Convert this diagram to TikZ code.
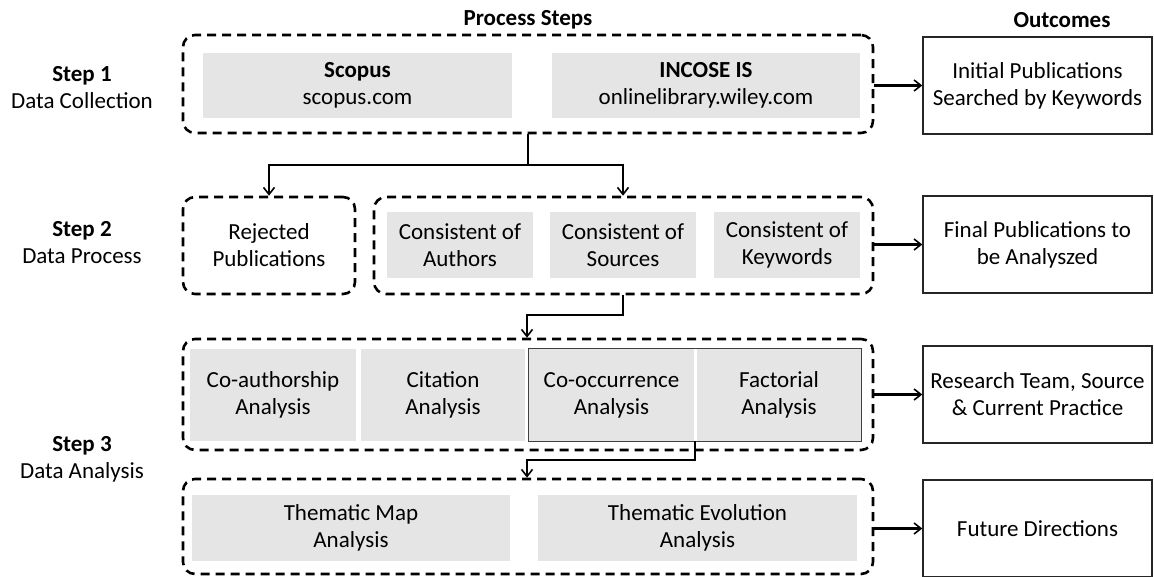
\documentclass[tikz,border=0pt]{standalone}
\usepackage{fontspec}
\setmainfont{Carlito}
\usetikzlibrary{arrows.meta}
\definecolor{boxgrey}{HTML}{E5E5E5}
\tikzset{
  grp/.style={draw=black, line width=2.6pt, dash pattern=on 9pt off 6pt, rounded corners=12pt, inner sep=0pt, align=center},
  gbox/.style={fill=boxgrey, draw=none, align=center, inner sep=0pt},
  obox/.style={draw=black!85, line width=1.4pt, fill=white, align=center, inner sep=0pt},
  conn/.style={line width=2.4pt, -{Straight Barb[length=7pt,width=11pt,line width=1.6pt]}},
  plain/.style={line width=2.4pt},
  lbl/.style={align=center, inner sep=0pt},
}
% \cbox[style]{name}{x1}{y1}{x2}{y2}{text}
\newcommand{\cbox}[7][]{\node[#1, minimum width={#5-#3}, minimum height={#6-#4}] (#2) at ({(#3+#5)/2},{(#4+#6)/2}) {#7};}
\begin{document}
\begin{tikzpicture}[x=1pt,y=-1pt, font=\fontsize{23}{27}\selectfont]
\useasboundingbox (0,0) rectangle (1154,576);
\fill[white] (0,0) rectangle (1154,576);

% headers
\node[lbl, font=\fontsize{23}{27}\selectfont\bfseries] (hps) at (528,20) {Process Steps};
\node[lbl, font=\fontsize{23}{27}\selectfont\bfseries] (hout) at (1062,20) {Outcomes};

% step labels
\node[lbl] (s1) at (82,88) {\textbf{Step 1}\\Data Collection};
\node[lbl] (s2) at (82,243) {\textbf{Step 2}\\Data Process};
\node[lbl] (s3) at (82,459) {\textbf{Step 3}\\Data Analysis};

% Step 1
\cbox[grp]{g1}{183}{35}{873}{133}{}
\cbox[gbox]{scopus}{203}{53}{512}{118}{\textbf{Scopus}\\scopus.com}
\cbox[gbox]{incose}{552}{53}{860}{118}{\textbf{INCOSE IS}\\onlinelibrary.wiley.com}
\cbox[obox]{o1}{923}{37}{1152}{134}{Initial Publications\\Searched by Keywords}

% Step 2
\cbox[grp]{rej}{183}{197}{355}{294}{Rejected\\Publications}
\cbox[grp]{g2}{374}{197}{873}{294}{}
\cbox[gbox]{auth}{387}{212}{533}{278}{Consistent of\\Authors}
\cbox[gbox]{src}{550}{212}{696}{278}{Consistent of\\Sources}
\cbox[gbox]{kw}{714}{212}{860}{278}{Consistent of\\Keywords}
\cbox[obox]{o2}{923}{196}{1152}{293}{Final Publications to\\be Analyszed}

% Step 3a
\cbox[grp]{g3}{183}{339}{873}{450}{}
\cbox[gbox]{coa}{190}{349}{356}{441}{Co-authorship\\Analysis}
\cbox[gbox]{cit}{361}{349}{525}{441}{Citation\\Analysis}
\cbox[gbox]{coo}{529}{349}{694}{441}{Co-occurrence\\Analysis}
\cbox[gbox]{fac}{697}{349}{861}{441}{Factorial\\Analysis}
\draw[draw=black!75, line width=1.3pt] (coo.north west) rectangle (fac.south east);
\cbox[obox]{o3}{923}{346}{1152}{443}{Research Team, Source\\\& Current Practice}

% Step 3b
\cbox[grp]{g4}{183}{479}{873}{574}{}
\cbox[gbox]{tma}{192}{495}{510}{561}{Thematic Map\\Analysis}
\cbox[gbox]{tev}{538}{495}{857}{561}{Thematic Evolution\\Analysis}
\cbox[obox]{o4}{923}{480}{1152}{577}{Future Directions}

% connectors step -> outcome
\draw[conn] (g1.east |- o1.west) -- (o1.west);
\draw[conn] (g2.east |- o2.west) -- (o2.west);
\draw[conn] (g3.east |- o3.west) -- (o3.west);
\draw[conn] (g4.east |- o4.west) -- (o4.west);

% step1 -> step2
\coordinate (j1) at (528,165);
\draw[plain] (g1.south -| j1) -- (j1);
\draw[conn] (j1) -| (rej.north);
\draw[conn] (j1) -| (g2.north -| 623,0);

% step2 -> step3
\coordinate (j2) at (623,315);
\draw[conn] (g2.south -| j2) -- (j2) -| (g3.north -| 527,0);

% step3 -> step3b
\coordinate (j3) at (695,460);
\draw[conn] (fac.south west -| j3) -- (j3) -| (g4.north -| 527,0);
\end{tikzpicture}
\end{document}
